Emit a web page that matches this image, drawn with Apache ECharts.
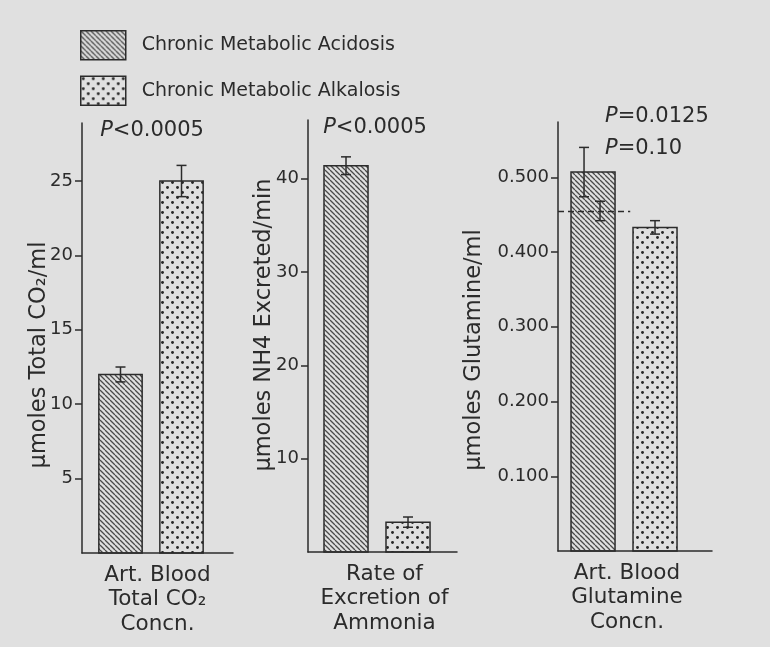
<!DOCTYPE html>
<html><head><meta charset="utf-8">
<script src="https://cdn.jsdelivr.net/npm/echarts@6/dist/echarts.min.js"></script>
<style>html,body{margin:0;padding:0;background:#e0e0e0}#chart{width:770px;height:647px}</style>
</head><body><div id="chart"></div>
<script>
// ---- data ----
const groups = ['Chronic Metabolic Acidosis', 'Chronic Metabolic Alkalosis'];
const panelTitles = ['Art. Blood\nTotal CO₂\nConcn.', 'Rate of\nExcretion of\nAmmonia', 'Art. Blood\nGlutamine\nConcn.'];
const yNames = ['μmoles Total CO₂/ml', 'μmoles NH4 Excreted/min', 'μmoles Glutamine/ml'];
const acidosisMean = [12.0, 41.4, 0.507];
const acidosisErr = [0.5, 0.95, 0.033];
const alkalosisMean = [25.0, 3.2, 0.433];
const alkalosisErr = [1.05, 0.55, 0.009];
const refGlutMean = 0.455;
const refGlutErr = 0.013;
const pLabels = ['P<0.0005', 'P<0.0005', 'P=0.0125', 'P=0.10'];
const yTicks = [[5, 10, 15, 20, 25], [10, 20, 30, 40], [0.1, 0.2, 0.3, 0.4, 0.5]];
const yMax = [28.9, 46.3, 0.574];

// ---- styles ----
const INK = '#2b2b2b';
const FONT = 'DejaVu Sans';
function hatchCanvas() {
  const c = document.createElement('canvas'); c.width = 5; c.height = 5;
  const ctx = c.getContext('2d');
  ctx.strokeStyle = '#4a4a4a'; ctx.lineWidth = 1.3;
  ctx.beginPath();
  for (let k = -1; k <= 1; k++) { ctx.moveTo(k * 5, 0); ctx.lineTo(k * 5 + 5, 5); }
  ctx.stroke();
  return c;
}
function dotCanvas() {
  const c = document.createElement('canvas'); c.width = 10; c.height = 10;
  const ctx = c.getContext('2d');
  ctx.fillStyle = '#262626';
  [[2.5, 2.5], [7.5, 7.5]].forEach(p => { ctx.beginPath(); ctx.arc(p[0], p[1], 1.45, 0, Math.PI * 2); ctx.fill(); });
  return c;
}
const hatch = { image: hatchCanvas(), repeat: 'repeat' };
const dots = { image: dotCanvas(), repeat: 'repeat' };

const grids = [
  { left: 82, top: 123, width: 151, height: 430 },
  { left: 308, top: 120, width: 149, height: 432 },
  { left: 558, top: 122, width: 154, height: 429 }
];
const xRange = [[0.369, 2.844], [0.387, 2.790], [0.435, 2.919]];
const nameGaps = [31, 32, 72];
const namePads = [[0, 34, 0, 0], [0, 0, 0, 22], [0, 27, 0, 0]];
const titlePads = [[0, 0, 0, 0], [0, 0, 0, 4], [0, 16, 0, 0]];
const errOffset = [[0, 0], [0, 0], [-0.145, 0]];
const BARW = 0.71;

function barRender(fill) {
  return function (params, api) {
    const x = api.value(0), v = api.value(1);
    const top = api.coord([x, v]), base = api.coord([x, 0]);
    const w = api.size([BARW, 0])[0];
    return { type: 'rect', shape: { x: top[0] - w / 2, y: top[1], width: w, height: base[1] - top[1] },
      style: { fill: fill, stroke: INK, lineWidth: 1.5 } };
  };
}
function errRender(params, api) {
  const x = api.value(0);
  const lo = api.coord([x, api.value(1)]), hi = api.coord([x, api.value(2)]);
  const c = 5;
  const st = { stroke: INK, lineWidth: 1.5, fill: null };
  return { type: 'group', children: [
    { type: 'line', shape: { x1: lo[0], y1: lo[1], x2: hi[0], y2: hi[1] }, style: st },
    { type: 'line', shape: { x1: hi[0] - c, y1: hi[1], x2: hi[0] + c, y2: hi[1] }, style: st },
    { type: 'line', shape: { x1: lo[0] - c, y1: lo[1], x2: lo[0] + c, y2: lo[1] }, style: st }
  ] };
}

const series = [];
for (let i = 0; i < 3; i++) {
  series.push({ type: 'custom', name: groups[0], xAxisIndex: i, yAxisIndex: i, itemStyle: { color: hatch },
    renderItem: barRender(hatch), data: [[1, acidosisMean[i]]], z: 2 });
  series.push({ type: 'custom', name: groups[1], xAxisIndex: i, yAxisIndex: i, itemStyle: { color: dots },
    renderItem: barRender(dots), data: [[2, alkalosisMean[i]]], z: 2 });
  series.push({ type: 'custom', name: 'err' + i, xAxisIndex: i, yAxisIndex: i, renderItem: errRender, z: 5,
    data: [[1 + errOffset[i][0], acidosisMean[i] - acidosisErr[i], acidosisMean[i] + acidosisErr[i]],
           [2 + errOffset[i][1], alkalosisMean[i] - alkalosisErr[i], alkalosisMean[i] + alkalosisErr[i]]] });
}
series.push({ type: 'custom', name: 'ref', xAxisIndex: 2, yAxisIndex: 2, renderItem: errRender, z: 5,
  data: [[1.113, refGlutMean - refGlutErr, refGlutMean + refGlutErr]],
  markLine: { silent: true, symbol: 'none', label: { show: false },
    lineStyle: { color: INK, width: 1.3, type: [6, 4] },
    data: [[{ coord: [xRange[2][0], refGlutMean] }, { coord: [1.6, refGlutMean] }]] } });

const axisLineStyle = { color: INK, width: 1.5 };
const pStyle = (txt, x, y, align) => ({
  type: 'text', x: x, y: y,
  style: { text: '{i|P}' + txt.slice(1), textAlign: align, textVerticalAlign: 'middle', fill: INK,
    font: '21px ' + FONT, rich: { i: { fontStyle: 'italic', fontSize: 21, fontFamily: FONT } } }
});
const option = {
  backgroundColor: '#e0e0e0',
  animation: false,
  textStyle: { fontFamily: FONT, color: INK },
  legend: {
    orient: 'vertical', left: 80, top: 30, padding: 0, itemWidth: 45, itemHeight: 29, itemGap: 15,
    textStyle: { fontFamily: FONT, fontSize: 19, color: INK, padding: [3, 0, 0, 11] },
    data: [
      { name: groups[0], icon: 'rect', itemStyle: { color: hatch, borderColor: INK, borderWidth: 1.5 } },
      { name: groups[1], icon: 'rect', itemStyle: { color: dots, borderColor: INK, borderWidth: 1.5 } }
    ]
  },
  grid: grids,
  xAxis: grids.map((g, i) => ({
    gridIndex: i, type: 'value', min: xRange[i][0], max: xRange[i][1],
    axisLine: { show: true, onZero: false, lineStyle: axisLineStyle },
    axisTick: { show: false }, axisLabel: { show: false }, splitLine: { show: false },
    name: panelTitles[i], nameLocation: 'middle', nameGap: 10, nameMoveOverlap: false,
    nameTextStyle: { fontFamily: FONT, fontSize: 21.5, lineHeight: 24.5, color: INK, padding: titlePads[i] }
  })),
  yAxis: grids.map((g, i) => ({
    gridIndex: i, type: 'value', min: 0, max: yMax[i],
    axisLine: { show: true, onZero: false, lineStyle: axisLineStyle },
    axisTick: { show: true, inside: false, length: 7, customValues: yTicks[i], lineStyle: axisLineStyle },
    axisLabel: { customValues: yTicks[i], fontFamily: FONT, fontSize: 18, color: INK, margin: 9,
      formatter: v => (i === 2 ? v.toFixed(3) : String(v)) },
    splitLine: { show: false },
    name: yNames[i], nameLocation: 'middle', nameRotate: 90, nameGap: nameGaps[i], nameMoveOverlap: false,
    nameTextStyle: { fontFamily: FONT, fontSize: 22.5, color: INK, padding: namePads[i] }
  })),
  graphic: [
    pStyle(pLabels[0], 152, 131, 'center'),
    pStyle(pLabels[1], 375, 128, 'center'),
    pStyle(pLabels[2], 605, 117, 'left'),
    pStyle(pLabels[3], 605, 149, 'left')
  ],
  series: series
};
const chart = echarts.init(document.getElementById('chart'));
chart.setOption(option);
</script>
</body></html>
